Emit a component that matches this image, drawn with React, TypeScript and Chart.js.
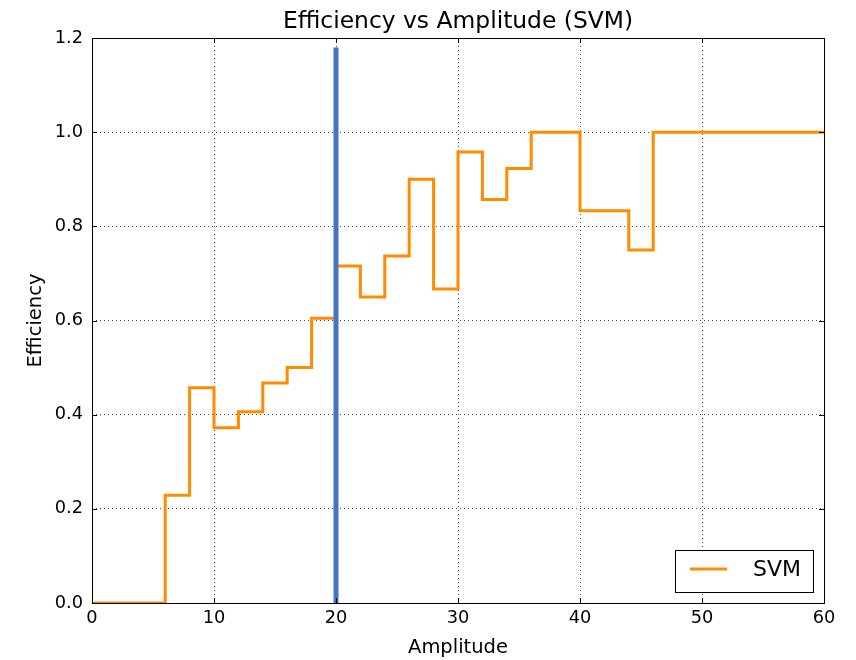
import React, { useEffect, useRef } from "react";
import { Chart, registerables } from "chart.js";

Chart.register(...registerables);

const amplitude = [0, 2, 4, 6, 8, 10, 12, 14, 16, 18, 20, 22, 24, 26, 28, 30, 32, 34, 36, 38, 40, 42, 44, 46, 48, 50, 52, 54, 56, 58, 60];
const efficiency = [0, 0, 0, 0.229, 0.457, 0.372, 0.406, 0.467, 0.5, 0.605, 0.716, 0.65, 0.737, 0.9, 0.667, 0.958, 0.857, 0.923, 1, 1, 0.833, 0.833, 0.75, 1, 1, 1, 1, 1, 1, 1, 1];
const thresholdX = [20, 20];
const thresholdY = [0, 1.18];
const xTicks = [0, 10, 20, 30, 40, 50, 60];
const yTicks = [0, 0.2, 0.4, 0.6, 0.8, 1.0, 1.2];

const FONT = "'DejaVu Sans', sans-serif";

const framePlugin = {
  id: "frame",
  afterDraw(chart: any) {
    const { ctx, chartArea } = chart;
    const { left, right, top, bottom } = chartArea;
    const xs = chart.scales.x;
    const ys = chart.scales.y;
    ctx.save();
    ctx.strokeStyle = "#000";
    ctx.lineWidth = 1;
    ctx.setLineDash([]);
    ctx.strokeRect(Math.round(left) + 0.5, Math.round(top) + 0.5, Math.round(right - left), Math.round(bottom - top));
    const tl = 5;
    ctx.beginPath();
    xTicks.forEach((v) => {
      const px = Math.round(xs.getPixelForValue(v)) + 0.5;
      ctx.moveTo(px, bottom);
      ctx.lineTo(px, bottom - tl);
      ctx.moveTo(px, top);
      ctx.lineTo(px, top + tl);
    });
    yTicks.forEach((v) => {
      const py = Math.round(ys.getPixelForValue(v)) + 0.5;
      ctx.moveTo(left, py);
      ctx.lineTo(left + tl, py);
      ctx.moveTo(right, py);
      ctx.lineTo(right - tl, py);
    });
    ctx.stroke();

    // legend
    const bw = 138;
    const bh = 42;
    const bx = right - 11 - bw;
    const by = bottom - 11 - bh;
    ctx.fillStyle = "#fff";
    ctx.fillRect(bx, by, bw, bh);
    ctx.strokeStyle = "#000";
    ctx.lineWidth = 1;
    ctx.strokeRect(Math.round(bx) + 0.5, Math.round(by) + 0.5, bw, bh);
    ctx.strokeStyle = "#ff8c00";
    ctx.lineWidth = 3;
    ctx.beginPath();
    ctx.moveTo(bx + 15, by + 19);
    ctx.lineTo(bx + 52, by + 19);
    ctx.stroke();
    ctx.fillStyle = "#000";
    ctx.font = `22px ${FONT}`;
    ctx.textBaseline = "middle";
    ctx.textAlign = "left";
    ctx.fillText("SVM", bx + 78, by + 20);
    ctx.restore();
  },
};

export default function App() {
  const ref = useRef<HTMLCanvasElement>(null);
  useEffect(() => {
    if (!ref.current) return;
    const chart = new Chart(ref.current, {
      type: "line",
      data: {
        datasets: [
          {
            label: "threshold",
            data: thresholdX.map((x, i) => ({ x, y: thresholdY[i] })),
            borderColor: "#4472c4",
            backgroundColor: "#4472c4",
            borderWidth: 5,
            pointRadius: 0,
            order: 0,
          },
          {
            label: "SVM",
            data: amplitude.map((x, i) => ({ x, y: efficiency[i] })),
            borderColor: "#ff8c00",
            backgroundColor: "#ff8c00",
            borderWidth: 3,
            pointRadius: 0,
            stepped: "before",
            order: 1,
          },
        ],
      },
      options: {
        responsive: false,
        animation: false,
        devicePixelRatio: 1,
        layout: { padding: { left: 0, right: 32, top: 0, bottom: 0 } },
        plugins: {
          legend: { display: false },
          tooltip: { enabled: false },
          title: {
            display: true,
            fullSize: false,
            text: "Efficiency vs Amplitude (SVM)",
            color: "#000",
            font: { family: FONT, size: 23.4, weight: "normal", lineHeight: 1.2 },
            padding: { top: 7.5, bottom: 2.42 },
          },
        },
        scales: {
          x: {
            type: "linear",
            min: 0,
            max: 60,
            afterBuildTicks: (s: any) => {
              s.ticks = xTicks.map((v) => ({ value: v }));
            },
            afterFit: (s: any) => {
              s.height = 57;
            },
            ticks: {
              color: "#000",
              font: { family: FONT, size: 17.8 },
              padding: 5,
              maxRotation: 0,
              callback: (v: any) => String(v),
            },
            grid: { color: "rgba(0,0,0,0.7)", lineWidth: 1, drawTicks: false },
            border: { display: false, dash: [1, 3] },
            title: {
              display: true,
              text: "Amplitude",
              color: "#000",
              font: { family: FONT, size: 19.5 },
              padding: { top: 0, bottom: 0 },
            },
          },
          y: {
            type: "linear",
            min: 0,
            max: 1.2,
            afterBuildTicks: (s: any) => {
              s.ticks = yTicks.map((v) => ({ value: v }));
            },
            afterFit: (s: any) => {
              s.width = 92;
            },
            ticks: {
              color: "#000",
              font: { family: FONT, size: 17.8 },
              padding: 9,
              callback: (v: any) => Number(v).toFixed(1),
            },
            grid: { color: "rgba(0,0,0,0.7)", lineWidth: 1, drawTicks: false },
            border: { display: false, dash: [1, 3] },
            title: {
              display: true,
              text: "Efficiency",
              color: "#000",
              font: { family: FONT, size: 19.5 },
              padding: { top: 24, bottom: 0 },
            },
          },
        },
      },
      plugins: [framePlugin],
    });
    return () => chart.destroy();
  }, []);
  return (
    <div style={{ position: "absolute", left: 0, top: 0, width: 856, height: 660, background: "#fff" }}>
      <canvas ref={ref} width={856} height={660} />
    </div>
  );
}
